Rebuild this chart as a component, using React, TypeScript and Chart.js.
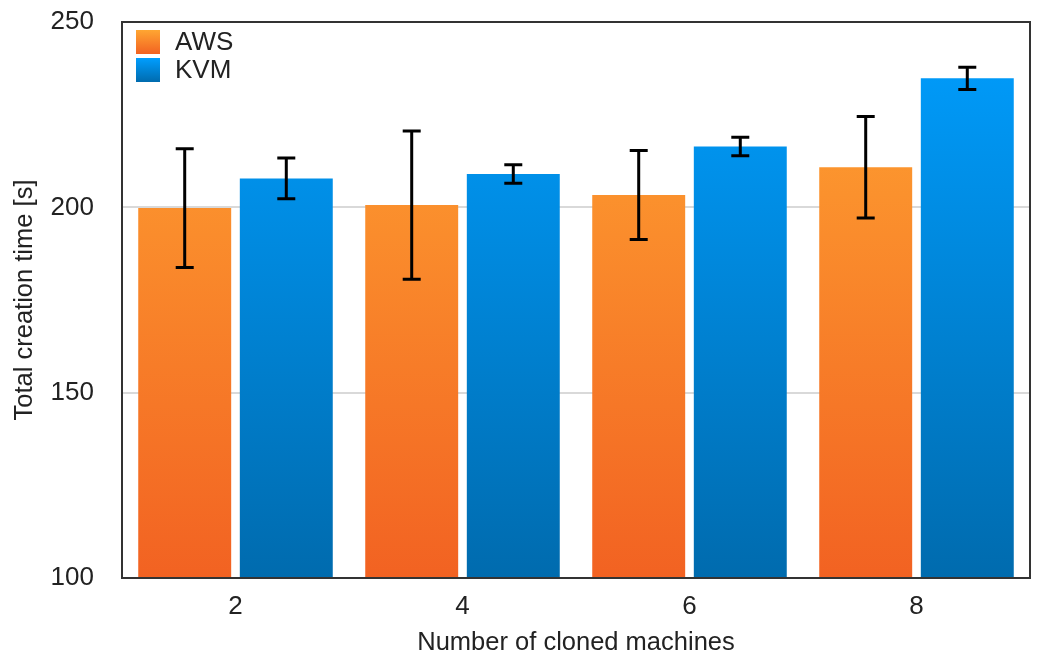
import React, { useEffect, useRef } from "react";
import { Chart, registerables } from "chart.js";

Chart.register(...registerables);

const categories = ["2", "4", "6", "8"];
const awsValues = [199.8, 200.6, 203.3, 210.8];
const awsErrors = [16, 20, 12, 13.7];
const kvmValues = [207.8, 209.0, 216.4, 234.8];
const kvmErrors = [5.5, 2.5, 2.5, 3];
const yTicks = [100, 150, 200, 250];
const seriesNames = ["AWS", "KVM"];

const FONT = "'Liberation Sans', Arial, Helvetica, sans-serif";
const FS = 26;

function orangeGrad(ctx: CanvasRenderingContext2D, top: number, bottom: number) {
  const g = ctx.createLinearGradient(0, top, 0, bottom);
  g.addColorStop(0, "#FFA632");
  g.addColorStop(1, "#F26222");
  return g;
}
function blueGrad(ctx: CanvasRenderingContext2D, top: number, bottom: number) {
  const g = ctx.createLinearGradient(0, top, 0, bottom);
  g.addColorStop(0, "#009EFF");
  g.addColorStop(1, "#006BAE");
  return g;
}

export default function App() {
  const ref = useRef<HTMLCanvasElement | null>(null);

  useEffect(() => {
    if (!ref.current) return;
    const errors = [awsErrors, kvmErrors];

    const errorBarPlugin = {
      id: "errorBars",
      afterDatasetsDraw(chart: any) {
        const ctx = chart.ctx;
        const y = chart.scales.y;
        ctx.save();
        ctx.strokeStyle = "#000";
        ctx.lineWidth = 3;
        chart.data.datasets.forEach((ds: any, di: number) => {
          const meta = chart.getDatasetMeta(di);
          meta.data.forEach((bar: any, i: number) => {
            const v = ds.data[i];
            const e = errors[di][i];
            const yt = y.getPixelForValue(v + e);
            const yb = y.getPixelForValue(v - e);
            const x = bar.x;
            const cw = 9;
            ctx.beginPath();
            ctx.moveTo(x, yt);
            ctx.lineTo(x, yb);
            ctx.moveTo(x - cw, yt);
            ctx.lineTo(x + cw, yt);
            ctx.moveTo(x - cw, yb);
            ctx.lineTo(x + cw, yb);
            ctx.stroke();
          });
        });
        ctx.restore();
      },
    };

    const frameLegendPlugin = {
      id: "frameLegend",
      afterDraw(chart: any) {
        const ctx = chart.ctx;
        const a = chart.chartArea;
        ctx.save();
        ctx.strokeStyle = "#333";
        ctx.lineWidth = 2;
        ctx.strokeRect(a.left, a.top, a.right - a.left, a.bottom - a.top);
        const grads = [
          (t: number, b: number) => orangeGrad(ctx, t, b),
          (t: number, b: number) => blueGrad(ctx, t, b),
        ];
        ctx.font = `${FS}px ${FONT}`;
        ctx.textBaseline = "middle";
        seriesNames.forEach((name, i) => {
          const bx = a.left + 14;
          const by = a.top + 8 + i * 28;
          ctx.fillStyle = grads[i](by, by + 24);
          ctx.fillRect(bx, by, 24, 24);
          ctx.fillStyle = "#222";
          ctx.fillText(name, bx + 39, by + 13);
        });
        ctx.restore();
      },
    };

    const chart = new Chart(ref.current, {
      type: "bar",
      data: {
        labels: categories,
        datasets: [
          {
            label: seriesNames[0],
            data: awsValues,
            backgroundColor: (c: any) => {
              const a = c.chart.chartArea;
              if (!a) return "#FF9A2C";
              return orangeGrad(c.chart.ctx, a.top, a.bottom);
            },
            borderWidth: 0,
            categoryPercentage: 0.895,
            barPercentage: 0.915,
          },
          {
            label: seriesNames[1],
            data: kvmValues,
            backgroundColor: (c: any) => {
              const a = c.chart.chartArea;
              if (!a) return "#0094F0";
              return blueGrad(c.chart.ctx, a.top, a.bottom);
            },
            borderWidth: 0,
            categoryPercentage: 0.895,
            barPercentage: 0.915,
          },
        ],
      },
      options: {
        animation: false,
        responsive: false,
        maintainAspectRatio: false,
        layout: { padding: { left: 0, right: 7, top: 22, bottom: 0 } },
        plugins: {
          legend: { display: false },
          tooltip: { enabled: false },
        },
        scales: {
          x: {
            grid: { display: false, drawTicks: false },
            border: { display: false },
            ticks: {
              color: "#222",
              font: { family: FONT, size: FS },
              padding: 13,
            },
            title: {
              display: true,
              text: "Number of cloned machines",
              color: "#222",
              font: { family: FONT, size: 25.5 },
              padding: { top: 4, bottom: 2 },
            },
            afterFit: (s: any) => {
              s.height = 82;
              s.paddingLeft = 0;
              s.paddingRight = 0;
            },
          },
          y: {
            min: 100,
            max: 250,
            afterBuildTicks: (s: any) => {
              s.ticks = yTicks.map((v) => ({ value: v }));
            },
            grid: {
              drawTicks: false,
              color: (c: any) =>
                c.tick && (c.tick.value === 100 || c.tick.value === 250)
                  ? "rgba(0,0,0,0)"
                  : "#D9D9D9",
              lineWidth: 2,
            },
            border: { display: false },
            ticks: {
              color: "#222",
              font: { family: FONT, size: FS },
              padding: 28,
            },
            title: {
              display: true,
              text: "Total creation time [s]",
              color: "#222",
              font: { family: FONT, size: 25.5 },
              padding: { top: 10, bottom: 4 },
            },
            afterFit: (s: any) => {
              s.width = 122;
              s.paddingTop = 0;
              s.paddingBottom = 0;
            },
          },
        },
      },
      plugins: [errorBarPlugin, frameLegendPlugin],
    } as any);
    return () => chart.destroy();
  }, []);

  return (
    <div style={{ position: "fixed", left: 0, top: 0, width: 1037, height: 660, background: "#fff" }}>
      <canvas ref={ref} width={1037} height={660} style={{ width: 1037, height: 660 }} />
    </div>
  );
}
